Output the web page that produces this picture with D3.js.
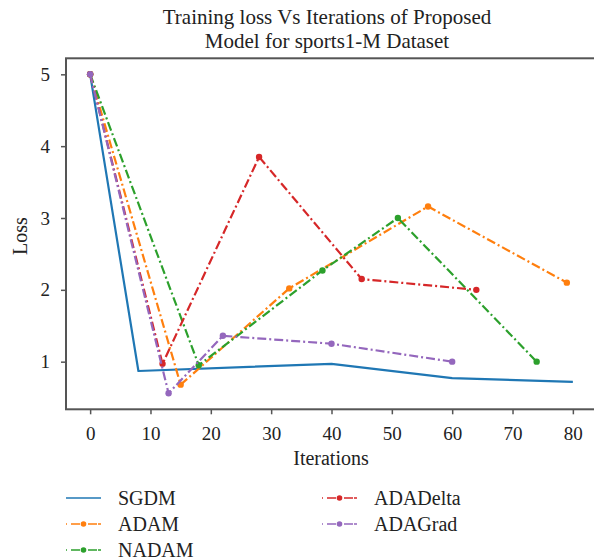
<!DOCTYPE html>
<html>
<head>
<meta charset="utf-8">
<script src="https://cdn.jsdelivr.net/npm/d3@7"></script>
<style>
  body { margin: 0; background: #fff; }
  svg { display: block; }
  svg text { font-family: "Liberation Serif", "DejaVu Serif", serif; }
</style>
</head>
<body>
<svg id="chart" width="594" height="560"></svg>
<script>
// values
const sgdm = [[0, 5], [8, 0.87], [40, 0.97], [60, 0.77], [80, 0.72]];
const adam = [[0, 5], [15, 0.68], [33, 2.02], [56, 3.16], [79, 2.1]];
const nadam = [[0, 5], [18, 0.95], [38.5, 2.27], [51, 3.0], [74, 1.0]];
const adaDelta = [[0, 5], [12, 0.97], [28, 3.85], [45, 2.15], [64, 2.0]];
const adaGrad = [[0, 5], [13, 0.56], [22, 1.36], [40, 1.25], [60, 1.0]];

const xTicks = [0, 10, 20, 30, 40, 50, 60, 70, 80];
const yTicks = [1, 2, 3, 4, 5];

const series = [
  { name: "SGDM", data: sgdm, color: "#1f77b4", dash: null, marker: false },
  { name: "ADAM", data: adam, color: "#ff7f0e", dash: "9,3,2,3", marker: true },
  { name: "NADAM", data: nadam, color: "#2ca02c", dash: "9,3,2,3", marker: true },
  { name: "ADADelta", data: adaDelta, color: "#d62728", dash: "9,3,2,3", marker: true },
  { name: "ADAGrad", data: adaGrad, color: "#9467bd", dash: "9,3,2,3", marker: true }
];

const svg = d3.select("#chart");
const plotLeft = 66, plotRight = 597, plotTop = 58.3, plotBottom = 409.3;

const x = d3.scaleLinear().domain([-4, 84]).range([plotLeft, plotRight]);
const y = d3.scaleLinear().domain([0.337, 5.223]).range([plotBottom, plotTop]);

// title
const title = svg.append("text")
  .attr("text-anchor", "middle")
  .attr("font-size", 21)
  .attr("fill", "#222");
title.append("tspan").attr("x", 327).attr("y", 24).text("Training loss Vs Iterations of Proposed");
title.append("tspan").attr("x", 327).attr("y", 48).text("Model for sports1-M Dataset");

// axes
const xAxis = svg.append("g")
  .attr("transform", "translate(0," + plotBottom + ")")
  .call(d3.axisBottom(x).tickValues(xTicks).tickFormat(d3.format("d")).tickSize(5).tickPadding(12.5));
const yAxis = svg.append("g")
  .attr("transform", "translate(" + plotLeft + ",0)")
  .call(d3.axisLeft(y).tickValues(yTicks).tickFormat(d3.format("d")).tickSize(5).tickPadding(11));
[xAxis, yAxis].forEach(a => {
  a.attr("font-family", null).attr("font-size", 19);
  a.select(".domain").remove();
  a.selectAll(".tick line").attr("stroke", "#555").attr("stroke-width", 1.5);
  a.selectAll(".tick text").attr("fill", "#222");
});

// lines
const line = d3.line().x(d => x(d[0])).y(d => y(d[1]));
series.forEach(s => {
  svg.append("path")
    .datum(s.data)
    .attr("fill", "none")
    .attr("stroke", s.color)
    .attr("stroke-width", 2.2)
    .attr("stroke-dasharray", s.dash)
    .attr("stroke-linejoin", "round")
    .attr("d", line);
  if (s.marker) {
    svg.append("g").selectAll("circle")
      .data(s.data)
      .enter()
      .append("circle")
      .attr("cx", d => x(d[0]))
      .attr("cy", d => y(d[1]))
      .attr("r", 3.2)
      .attr("fill", s.color);
  }
});

// frame
svg.append("rect")
  .attr("x", plotLeft).attr("y", plotTop)
  .attr("width", plotRight - plotLeft).attr("height", plotBottom - plotTop)
  .attr("fill", "none")
  .attr("stroke", "#555")
  .attr("stroke-width", 2);

// axis labels
svg.append("text")
  .attr("x", 331).attr("y", 465)
  .attr("text-anchor", "middle")
  .attr("font-size", 20)
  .attr("fill", "#222")
  .text("Iterations");

svg.append("text")
  .attr("transform", "translate(27,236) rotate(-90)")
  .attr("text-anchor", "middle")
  .attr("font-size", 20)
  .attr("fill", "#222")
  .text("Loss");

// legend
const legendPos = [[66, 498], [66, 524], [66, 550], [322, 498], [322, 524]];
series.forEach((s, i) => {
  const g = svg.append("g")
    .attr("transform", "translate(" + legendPos[i][0] + "," + legendPos[i][1] + ")");
  g.append("line")
    .attr("x1", 0).attr("x2", 35)
    .attr("stroke", s.color)
    .attr("stroke-width", 1.6)
    .attr("stroke-dasharray", s.dash ? "1,4,9,3,2,3,9" : null);
  if (s.marker) {
    g.append("circle").attr("cx", 17.5).attr("r", 2.8).attr("fill", s.color);
  }
  g.append("text")
    .attr("x", 52).attr("y", 7)
    .attr("font-size", 20)
    .attr("fill", "#222")
    .text(s.name);
});
</script>
</body>
</html>
